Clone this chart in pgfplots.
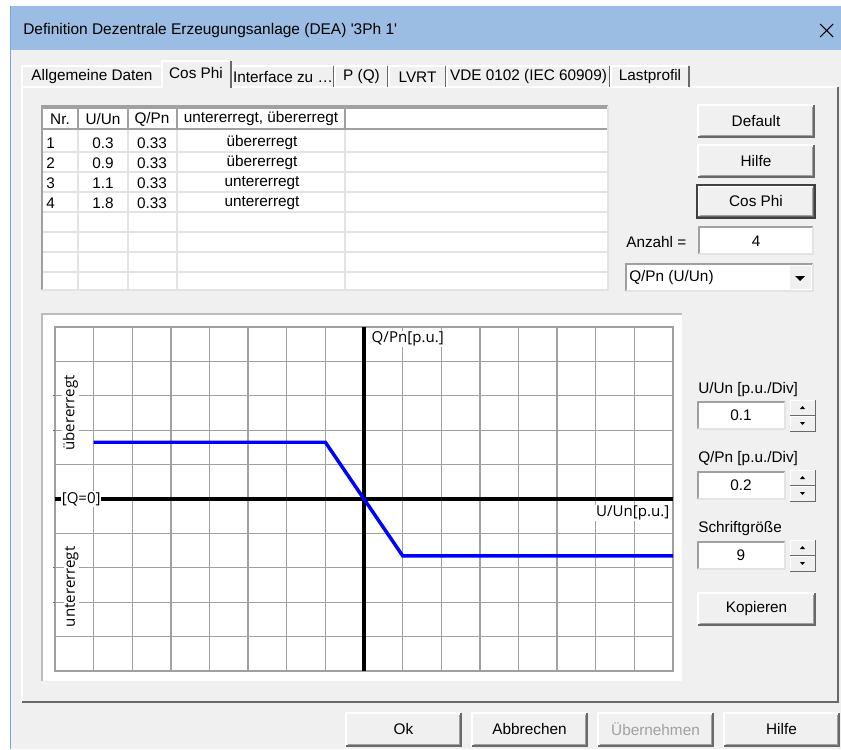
\documentclass[border=0pt]{standalone}
\usepackage{fontspec}
\setmainfont{Liberation Sans}
\newfontfamily\chartfont{Open Sans}
\usepackage{pgfplots}
\usepackage{pgfplotstable}
\pgfplotsset{compat=1.18}
\definecolor{winbg}{HTML}{F0F0F0}
\definecolor{titlebar}{RGB}{156,189,227}
\definecolor{winborder}{RGB}{120,165,222}
\definecolor{gridgray}{HTML}{A0A0A0}
\definecolor{lightline}{HTML}{E3E3E3}
\definecolor{midgray}{HTML}{A0A0A0}
\definecolor{darkshadow}{HTML}{696969}
\definecolor{disabledtxt}{HTML}{A0A0A0}
\newcommand{\dlg}{\fontsize{11.5}{13.8}\selectfont}
\newcommand{\chartf}{\chartfont\fontsize{11.3}{13.5}\selectfont}
% raised button
\newcommand{\btn}[5]{%
  \fill[winbg] (#1,#2) rectangle (#3,#4);
  \draw[white, line width=1pt] (#1,#4) -- (#1,#2) -- (#3,#2);
  \draw[midgray, line width=1pt] (#1+1.5,#4-1.5) -- (#3-1.5,#4-1.5) -- (#3-1.5,#2+1.5);
  \draw[darkshadow, line width=1pt] (#1,#4) -- (#3,#4) -- (#3,#2);
  \node[font=\dlg, inner sep=0pt] at ({(#1+#3)/2},{(#2+#4)/2}) {#5};
}
% sunken field
\newcommand{\field}[4]{%
  \fill[white] (#1,#2) rectangle (#3,#4);
  \draw[midgray, line width=1pt] (#1,#4) -- (#1,#2) -- (#3,#2);
  \draw[lightline, line width=1pt] (#1,#4) -- (#3,#4) -- (#3,#2);
}
% spin control
\newcommand{\spin}[3]{%
  \fill[winbg] (#1,#2) rectangle (#1+25,#2+15);
  \draw[white, line width=0.75pt] (#1,#2+15) -- (#1,#2) -- (#1+25,#2);
  \draw[darkshadow, line width=0.75pt] (#1,#2+15) -- (#1+25,#2+15) -- (#1+25,#2);
  \fill[black] (#1+10,#2+9) -- (#1+15,#2+9) -- (#1+12.5,#2+6) -- cycle;
  \fill[winbg] (#1,#2+16) rectangle (#1+25,#2+31);
  \draw[white, line width=0.75pt] (#1,#2+31) -- (#1,#2+16) -- (#1+25,#2+16);
  \draw[darkshadow, line width=0.75pt] (#1,#2+31) -- (#1+25,#2+31) -- (#1+25,#2+16);
  \fill[black] (#1+10,#2+22) -- (#1+15,#2+22) -- (#1+12.5,#2+25) -- cycle;
  \node[font=\dlg, inner sep=0pt] at (#1-49,#2+15.5) {#3};
}
\pgfplotstableread{
u q
0.3 0.33
0.9 0.33
1.1 -0.33
1.8 -0.33
}\qdata
\begin{document}
\begin{tikzpicture}[x=0.75pt, y=-0.75pt]
\useasboundingbox (0,0) rectangle (841,749);
\fill[white] (0,0) rectangle (841,749);
% window
\fill[winbg] (10,6) rectangle (841,749);
\fill[titlebar] (10,6) rectangle (841,50);
\draw[winborder, line width=0.75pt] (10.5,6) -- (10.5,749);
\node[font=\fontsize{11.6}{14}\selectfont, anchor=west, inner sep=0pt] at (23,31)
  {Definition Dezentrale Erzeugungsanlage (DEA) \textquotesingle3Ph 1\textquotesingle};
\draw[black, line width=0.8pt] (820,24) -- (833,37) (833,24) -- (820,37);
% tab panel
\fill[winbg] (22,87) rectangle (838,702);
\draw[white, line width=1pt] (22,702) -- (22,87) -- (838,87);
\draw[darkshadow, line width=1pt] (22,702) -- (838,702) -- (838,87);
% inactive tabs
\foreach \a/\b/\t in {22/162/Allgemeine Daten, 232/334/Interface zu \dots, 335/388/P (Q), 389/446/LVRT, 447/610/VDE 0102 (IEC 60909), 611/689/Lastprofil}{
  \draw[white, line width=1pt] (\a,87) -- (\a,66) -- (\b-1,66);
  \draw[darkshadow, line width=1pt] (\b,66) -- (\b,87);
  \node[font=\dlg, inner sep=0pt] at ({(\a+\b)/2},77) {\t};
}
% selected tab
\fill[winbg] (162,61) rectangle (231,89);
\draw[white, line width=1pt] (162,88) -- (162,61) -- (230,61);
\draw[darkshadow, line width=1pt] (231,61) -- (231,88);
\node[font=\dlg, inner sep=0pt] at (196,73) {Cos Phi};
% table
\fill[white] (42,106) rectangle (608,290);
\foreach \y in {152,172,...,272}{ \draw[lightline, line width=1pt] (43,\y) -- (607,\y); }
\foreach \x in {78,128,177,345}{ \draw[lightline, line width=1pt] (\x,129) -- (\x,290); }
\foreach \b in {78,128,177}{
  \draw[midgray, line width=1pt] (\b,108) -- (\b,128);
}
\draw[midgray, line width=1.5pt] (43,129) -- (607,129);
\draw[midgray, line width=1pt] (345,108) -- (345,129) (43,108)--(607,108);
\draw[midgray, line width=1.5pt] (42,290) -- (42,106) -- (608,106);
\draw[lightline, line width=1pt] (42,290) -- (608,290) -- (608,106);
\node[font=\dlg, inner sep=0pt] at (60,119) {Nr.};
\node[font=\dlg, inner sep=0pt] at (103,119) {U/Un};
\node[font=\dlg, inner sep=0pt] at (152,119) {Q/Pn};
\node[font=\dlg, inner sep=0pt] at (261,119) {untererregt, übererregt};
\foreach \n/\u/\q/\s [count=\i] in {1/0.3/0.33/übererregt, 2/0.9/0.33/übererregt, 3/1.1/0.33/untererregt, 4/1.8/0.33/untererregt}{
  \node[font=\dlg, anchor=west, inner sep=0pt] at (46,{123+20*\i}) {\n};
  \node[font=\dlg, inner sep=0pt] at (103,{123+20*\i}) {\u};
  \node[font=\dlg, inner sep=0pt] at (152,{123+20*\i}) {\q};
  \node[font=\dlg, inner sep=0pt] at (262,{123+20*\i}) {\s};
}
% right-hand controls (top)
\btn{698}{105}{814}{137}{Default}
\btn{698}{145}{814}{177}{Hilfe}
\btn{698}{186}{814}{217}{Cos Phi}
\draw[black!75, line width=1pt] (697,185) rectangle (815,218);
\node[font=\dlg, anchor=west, inner sep=0pt] at (626,242) {Anzahl =};
\field{699}{227}{813}{254}
\node[font=\dlg, inner sep=0pt] at (756,241) {4};
\field{626}{264}{813}{291}
\node[font=\dlg, anchor=west, inner sep=0pt] at (629,278) {Q/Pn (U/Un)};
\fill[winbg] (790,266) rectangle (811,289);
\fill[black] (795,276) -- (805,276) -- (800,281) -- cycle;
% chart panel
\fill[white] (42,314) rectangle (682,681);
\draw[midgray!70, line width=1pt] (42,681) -- (42,314) -- (682,314);
\coordinate (axSW) at (55,671);
\begin{axis}[
  at={(axSW)}, anchor=south west, scale only axis,
  width=463.5pt, height=258pt,
  xmin=0.2, xmax=1.8, ymin=-1, ymax=1,
  xtick={0.2,0.3,0.4,0.5,0.6,0.7,0.8,0.9,1.0,1.1,1.2,1.3,1.4,1.5,1.6,1.7,1.8},
  ytick={-1,-0.8,-0.6,-0.4,-0.2,0,0.2,0.4,0.6,0.8,1},
  xticklabels={}, yticklabels={},
  major tick length=0pt,
  grid=major,
  major grid style={draw=gridgray, line width=1pt},
  axis line style={draw=gridgray, line width=1pt},
  clip=false,
]
\draw[black, line width=2.3pt] (axis cs:0.2,0) -- (axis cs:1.8,0);
\draw[black, line width=2.3pt] (axis cs:1,-1) -- (axis cs:1,1);
\draw[darkshadow, line width=1pt] (axis cs:0.2,0.6) -- (axis cs:0.194,0.6);
\draw[darkshadow, line width=1pt] (axis cs:0.2,0.4) -- (axis cs:0.194,0.4);
\draw[darkshadow, line width=1pt] (axis cs:0.2,-0.4) -- (axis cs:0.194,-0.4);
\draw[darkshadow, line width=1pt] (axis cs:0.2,-0.6) -- (axis cs:0.194,-0.6);
\node[font=\chartf, fill=white, inner sep=0.6pt, anchor=west] at (axis cs:0.2,0) [xshift=4.3pt] {[Q=0]};
\node[font=\chartf, fill=white, inner sep=0.6pt, anchor=north west] at (axis cs:1,1) [xshift=5pt, yshift=-3pt] {Q/Pn[p.u.]};
\node[font=\chartf, fill=white, inner sep=0.6pt, anchor=north east] at (axis cs:1.8,0) [xshift=-2pt, yshift=-4pt] {U/Un[p.u.]};
\node[font=\chartf, fill=white, inner sep=0.6pt, rotate=90] at (axis cs:0.24,0.5) {übererregt};
\node[font=\chartf, fill=white, inner sep=0.6pt, rotate=90] at (axis cs:0.243,-0.51) {untererregt};
\addplot[color={rgb,255:red,0;green,0;blue,255}, line width=2.6pt, line join=miter] table[x=u, y=q] {\qdata};
\end{axis}
% right-hand controls (lower)
\node[font=\dlg, anchor=west, inner sep=0pt] at (698,390) {U/Un [p.u./Div]};
\field{698}{402}{785}{429}
\spin{790}{400}{0.1}
\node[font=\dlg, anchor=west, inner sep=0pt] at (698,459) {Q/Pn [p.u./Div]};
\field{698}{472}{785}{499}
\spin{790}{470}{0.2}
\node[font=\dlg, anchor=west, inner sep=0pt] at (698,529) {Schriftgröße};
\field{698}{542}{785}{569}
\spin{790}{540}{9}
\btn{698}{593}{815}{625}{Kopieren}
% bottom buttons
\btn{346}{713}{461}{746}{Ok}
\btn{472}{713}{587}{746}{Abbrechen}
\btn{598}{713}{713}{746}{\textcolor{disabledtxt}{Übernehmen}}
\btn{724}{713}{839}{746}{Hilfe}
\end{tikzpicture}
\end{document}
